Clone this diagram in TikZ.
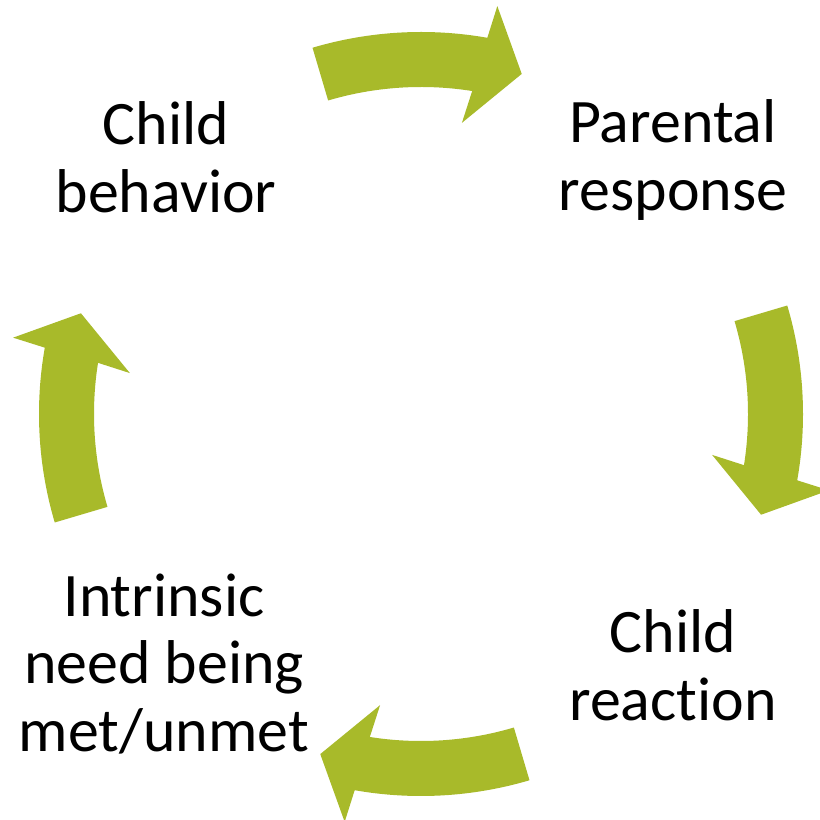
\documentclass[tikz,border=0pt]{standalone}
\usepackage{fontspec}
\setmainfont{Carlito}[Ligatures=NoCommon]
\definecolor{cyclegreen}{RGB}{168,186,42}
\tikzset{
    steptext/.style={align=center, inner sep=0pt, font=\fontsize{17.6}{19.3}\selectfont},
    cyclearrow/.style={fill=cyclegreen}
}
\begin{document}
\begin{tikzpicture}[x=0.1mm, y=0.1mm]
            \useasboundingbox (-421,-406) rectangle (399,414);

            \node[steptext] (behavior) at (-255, 257) {Child\\behavior};
            \node[steptext] (response) at (252, 254) {Parental\\response};
            \node[steptext] (reaction) at (252, -251) {Child\\reaction};
            \node[steptext] (need) at (-257, -250) {Intrinsic\\need being\\met/unmet};

            \foreach \b in {90, 0, -90, -180} {
                \fill[cyclearrow] (\b+16.5:382)
                    arc[start angle=\b+16.5, end angle=\b-10, radius=38.2mm]
                    -- (\b-10.6:415) -- (\b-16.5:354.7) -- (\b-8:294) -- (\b-9:327)
                    arc[start angle=\b-9, end angle=\b+16.5, radius=32.7mm]
                    -- cycle;
            }
        \end{tikzpicture}
\end{document}
